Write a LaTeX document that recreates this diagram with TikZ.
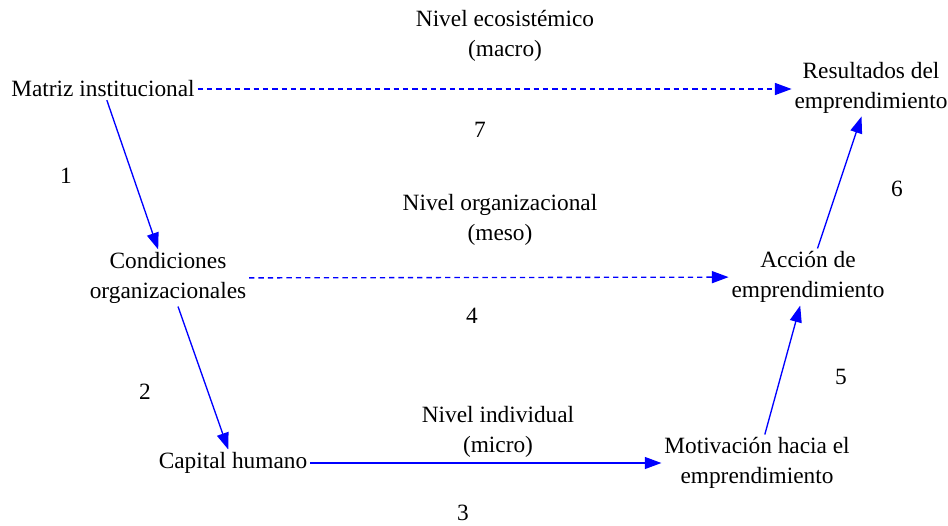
\documentclass[tikz,border=0pt]{standalone}
\usepackage{fontspec}
\setmainfont{Liberation Serif}
\usetikzlibrary{arrows.meta}
\tikzset{
    txt/.style={align=center, inner sep=2pt, font=\fontsize{17.5}{22.5}\selectfont},
    link/.style={blue, line width=1pt, -{Triangle[length=12.5pt,width=9pt]}},
    weaklink/.style={link, dash pattern=on 4pt off 3pt}
}
\begin{document}
\begin{tikzpicture}[x=0.75pt, y=-0.75pt]
    % Canvas
    \useasboundingbox (0,0) rectangle (948,525);

    % Factors
    \node[txt] (matriz) at (103,89) {Matriz institucional};
    \node[txt] (condiciones) at (168,278) {Condiciones\\organizacionales};
    \node[txt] (capital) at (233,463) {Capital humano};
    \node[txt] (motivacion) at (757,463) {Motivación hacia el\\emprendimiento};
    \node[txt] (accion) at (808,277) {Acción de\\emprendimiento};
    \node[txt] (resultados) at (871,88) {Resultados del\\emprendimiento};

    % Levels
    \node[txt] (macro) at (505,36) {Nivel ecosistémico\\(macro)};
    \node[txt] (meso) at (500,220) {Nivel organizacional\\(meso)};
    \node[txt] (micro) at (498,432) {Nivel individual\\(micro)};

    % Path numbers
    \foreach \n/\x/\y in {1/66/176, 2/145/392, 3/463/513, 4/472/316,
                          5/841/377, 6/897/189, 7/480/130} {
        \node[txt] (num\n) at (\x,\y) {\n};
    }

    % Links
    \draw[link] (matriz) -- (condiciones);
    \draw[link] (condiciones) -- (capital);
    \draw[link] (capital) -- (motivacion);
    \draw[link] (motivacion) -- (accion);
    \draw[link] (accion) -- (resultados);
    \draw[weaklink] (matriz) -- (matriz -| resultados.west);
    \draw[weaklink] (condiciones) -- (accion);
\end{tikzpicture}
\end{document}
